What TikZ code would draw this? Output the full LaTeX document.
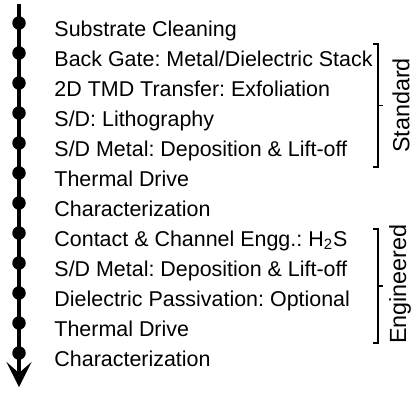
\documentclass[tikz,border=0pt]{standalone}
\usepackage{fontspec}
\setmainfont{Liberation Sans}
\frenchspacing
\usetikzlibrary{arrows.meta, positioning}

\begin{document}
\begin{tikzpicture}[
        node distance=0.6cm,
        font=\fontsize{12.2pt}{14pt}\selectfont,
        dot/.style={circle, fill=black, inner sep=0pt, minimum size=0.27cm},
        stage/.style={right=0.56cm of #1, anchor=base west, yshift=-0.27cm, inner sep=0pt},
        brace/.style={line width=0.9pt},
        group/.style={rotate=90, inner sep=0pt, font=\fontsize{13.3pt}{15pt}\selectfont}
    ]
        \useasboundingbox (0,0) rectangle (8.24,-7.84);

        % Process flow line
        \coordinate (start) at (0.38,-0.08);
        \coordinate (finish) at (0.38,-7.74);
        \draw[line width=2.4pt, -{Stealth[length=0.5cm, width=0.5cm, inset=0.22cm]}] (start) -- (finish);

        % Step markers
        \node[dot] (d1) at (0.38,-0.46) {};
        \node[dot, below of=d1] (d2) {};
        \node[dot, below of=d2] (d3) {};
        \node[dot, below of=d3] (d4) {};
        \node[dot, below of=d4] (d5) {};
        \node[dot, below of=d5] (d6) {};
        \node[dot, below of=d6] (d7) {};
        \node[dot, below of=d7] (d8) {};
        \node[dot, below of=d8] (d9) {};
        \node[dot, below of=d9] (d10) {};
        \node[dot, below of=d10] (d11) {};
        \node[dot, below of=d11] (d12) {};

        % Step labels
        \node[stage=d1] (t1) {Substrate Cleaning};
        \node[stage=d2] (t2) {Back Gate: Metal/Dielectric Stack};
        \node[stage=d3] (t3) {2D TMD Transfer: Exfoliation};
        \node[stage=d4] (t4) {S/D: Lithography};
        \node[stage=d5] (t5) {S/D Metal: Deposition \& Lift-off};
        \node[stage=d6] (t6) {Thermal Drive};
        \node[stage=d7] (t7) {Characterization};
        \node[stage=d8] (t8) {Contact \& Channel Engg.: H\textsubscript{2}S};
        \node[stage=d9] (t9) {S/D Metal: Deposition \& Lift-off};
        \node[stage=d10] (t10) {Dielectric Passivation: Optional};
        \node[stage=d11] (t11) {Thermal Drive};
        \node[stage=d12] (t12) {Characterization};

        % Brackets
        \coordinate (std top) at (7.56,-0.88);
        \coordinate (std bot) at (7.56,-3.34);
        \coordinate (std mid) at (7.56,-2.11);
        \draw[brace] ([xshift=-0.1cm]std top) -- (std top) -- (std bot) -- ([xshift=-0.1cm]std bot);
        \draw[brace] (std mid) -- ([xshift=0.1cm]std mid);
        \node[group] (std) at (8.02,-2.11) {Standard};

        \coordinate (eng top) at (7.56,-4.58);
        \coordinate (eng bot) at (7.56,-6.86);
        \coordinate (eng mid) at (7.56,-5.72);
        \draw[brace] ([xshift=-0.1cm]eng top) -- (eng top) -- (eng bot) -- ([xshift=-0.1cm]eng bot);
        \draw[brace] (eng mid) -- ([xshift=0.1cm]eng mid);
        \node[group] (eng) at (8.0,-5.68) {Engineered};
    \end{tikzpicture}
\end{document}
